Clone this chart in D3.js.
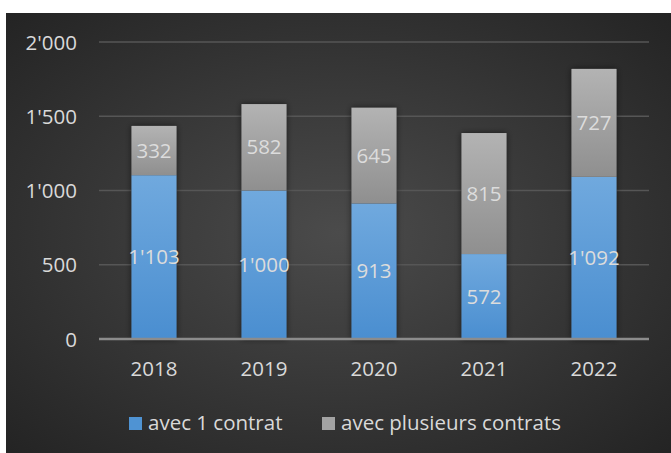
<!DOCTYPE html>
<html><head><meta charset="utf-8">
<script src="https://cdn.jsdelivr.net/npm/d3@7"></script>
<style>html,body{margin:0;padding:0;background:#fff;}svg{display:block;}</style>
</head><body>
<script>
const years = ["2018","2019","2020","2021","2022"];
const avecUn = [1103, 1000, 913, 572, 1092];
const avecPlusieurs = [332, 582, 645, 815, 727];
const yTicks = [0, 500, 1000, 1500, 2000];
const seriesNames = ["avec 1 contrat", "avec plusieurs contrats"];

const W = 671, H = 453;
const svg = d3.select("body").append("svg").attr("width", W).attr("height", H);
const defs = svg.append("defs");
const rg = defs.append("radialGradient").attr("id","bg").attr("cx","50%").attr("cy","50%").attr("r","70%");
rg.append("stop").attr("offset","0%").attr("stop-color","#4b4b4b");
rg.append("stop").attr("offset","100%").attr("stop-color","#242424");
const gb = defs.append("linearGradient").attr("id","gblue").attr("x1",0).attr("y1",0).attr("x2",0).attr("y2",1);
gb.append("stop").attr("offset","0%").attr("stop-color","#70a9de");
gb.append("stop").attr("offset","100%").attr("stop-color","#4a8ed0");
const gg = defs.append("linearGradient").attr("id","ggrey").attr("x1",0).attr("y1",0).attr("x2",0).attr("y2",1);
gg.append("stop").attr("offset","0%").attr("stop-color","#b3b3b3");
gg.append("stop").attr("offset","100%").attr("stop-color","#8f8f8f");
const f = defs.append("filter").attr("id","sh").attr("x","-30%").attr("y","-30%").attr("width","160%").attr("height","160%");
f.append("feDropShadow").attr("dx",0).attr("dy",0).attr("stdDeviation",3).attr("flood-color","#000").attr("flood-opacity",0.55);

svg.append("rect").attr("x",6).attr("y",13).attr("width",W-6).attr("height",H-13).attr("fill","url(#bg)");

const font = "'Open Sans', 'Noto Sans', sans-serif";
const fs = "20.5px";
const x = d3.scaleBand().domain(years).range([99, 649]).paddingInner(0.59).paddingOuter(0.295);
const y = d3.scaleLinear().domain([0, 2000]).range([339, 42]);

// gridlines
svg.append("g").selectAll("line").data(yTicks.filter(d=>d>0)).join("line")
  .attr("x1",99).attr("x2",649).attr("y1",d=>y(d)).attr("y2",d=>y(d))
  .attr("stroke","#565656").attr("stroke-width",1.5);

const fmt = d => d3.format(",")(d).replace(/,/g,"'");

// y axis labels
const yAxis = d3.axisLeft(y).tickValues(yTicks).tickSize(0).tickPadding(0).tickFormat(fmt);
const ya = svg.append("g").attr("transform","translate(77,0)").call(yAxis);
ya.select(".domain").remove();
ya.selectAll("text").attr("fill","#d9d9d9").style("font-family",font).style("font-size",fs).attr("dy","0.35em");

const data = years.map((yr,i)=>({yr, a: avecUn[i], b: avecPlusieurs[i]}));
const bars = svg.append("g");
bars.selectAll("rect.s").data(data).join("rect").attr("class","s")
  .attr("x",d=>x(d.yr)).attr("width",x.bandwidth())
  .attr("y",d=>y(d.a+d.b)).attr("height",d=>y(0)-y(d.a+d.b))
  .attr("fill","#333").attr("filter","url(#sh)");
bars.selectAll("rect.a").data(data).join("rect").attr("class","a")
  .attr("x",d=>x(d.yr)).attr("width",x.bandwidth())
  .attr("y",d=>y(d.a)).attr("height",d=>y(0)-y(d.a)).attr("fill","url(#gblue)");
bars.selectAll("rect.b").data(data).join("rect").attr("class","b")
  .attr("x",d=>x(d.yr)).attr("width",x.bandwidth())
  .attr("y",d=>y(d.a+d.b)).attr("height",d=>y(d.a)-y(d.a+d.b)).attr("fill","url(#ggrey)");

const lbl = svg.append("g").style("font-family",font).style("font-size",fs).attr("fill","#dcdcdc").attr("text-anchor","middle");
lbl.selectAll("text.a").data(data).join("text").attr("class","a")
  .attr("x",d=>x(d.yr)+x.bandwidth()/2).attr("y",d=>y(d.a/2)).attr("dy","0.35em").text(d=>fmt(d.a));
lbl.selectAll("text.b").data(data).join("text").attr("class","b")
  .attr("x",d=>x(d.yr)+x.bandwidth()/2).attr("y",d=>y(d.a+d.b/2)).attr("dy","0.35em").text(d=>fmt(d.b));

// x axis
svg.append("line").attr("x1",99).attr("x2",649).attr("y1",y(0)).attr("y2",y(0)).attr("stroke","#8c8c8c").attr("stroke-width",2.5);
const xAxis = d3.axisBottom(x).tickSize(0).tickPadding(0);
const xa = svg.append("g").attr("transform","translate(0,368.5)").call(xAxis);
xa.select(".domain").remove();
xa.selectAll("text").attr("fill","#d9d9d9").style("font-family",font).style("font-size",fs).attr("dy","0.35em");

// legend
const leg = svg.append("g").style("font-family",font).style("font-size",fs);
const legX = [129, 322];
const legFill = ["#4f93d3", "#a3a3a3"];
seriesNames.forEach((n,i)=>{
  leg.append("rect").attr("x",legX[i]).attr("y",417).attr("width",13).attr("height",13).attr("fill",legFill[i]);
  leg.append("text").attr("x",legX[i]+19).attr("y",423).attr("dy","0.35em").attr("fill","#d9d9d9").text(n);
});
</script>
</body></html>
